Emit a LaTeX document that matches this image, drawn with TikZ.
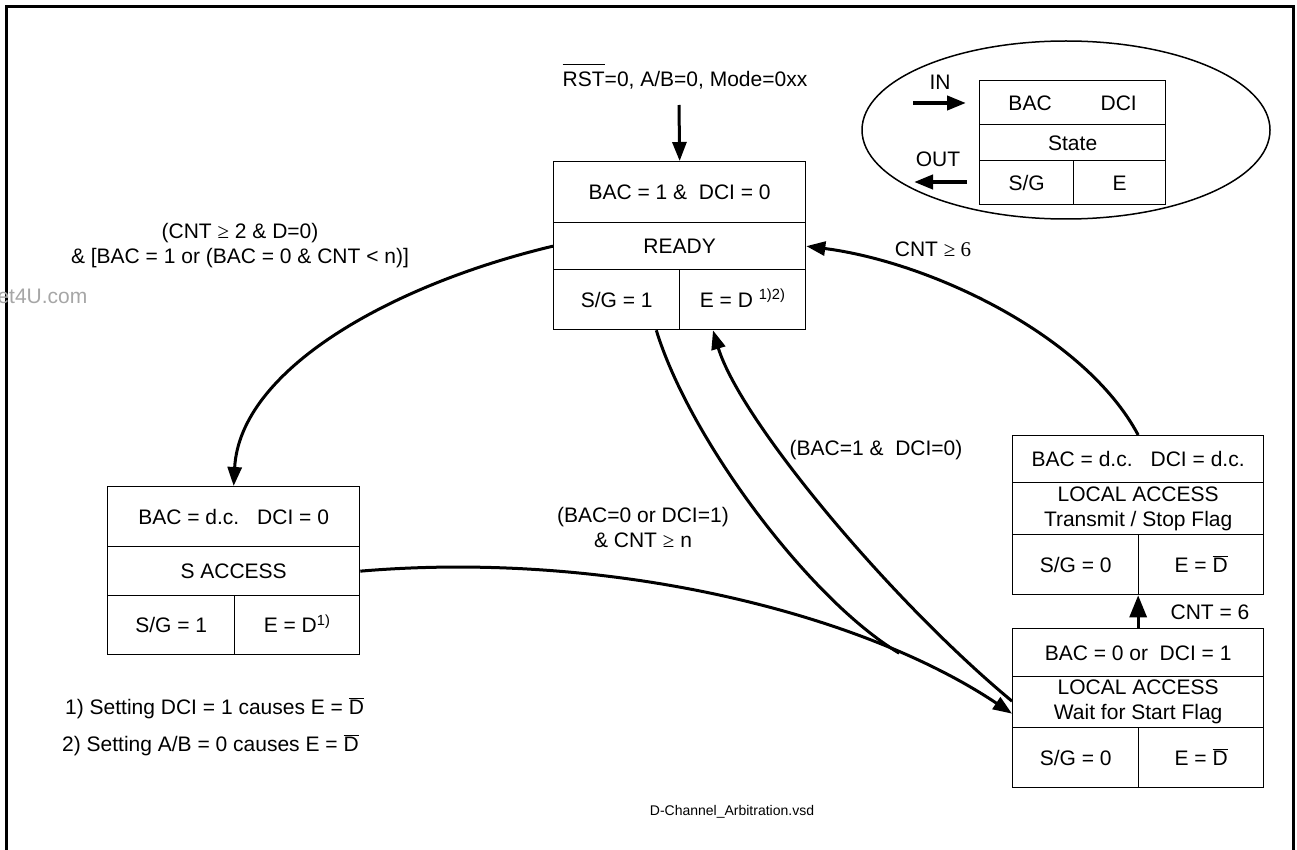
\documentclass[tikz,border=0pt]{standalone}
\usepackage{fontspec}
\setmainfont{Liberation Sans}
\newfontfamily\serifsym{Liberation Serif}
\usetikzlibrary{arrows.meta}
\pgfdeclarelayer{edgelayer}
\pgfdeclarelayer{nodelayer}
\pgfsetlayers{edgelayer,nodelayer,main}
\tikzstyle{cell}=[draw=black, fill=white, line width=1.3pt, inner sep=0pt, anchor=north west, align=center]
\tikzstyle{row}=[style=cell, text height=17pt, text depth=2pt]
\tikzstyle{cond}=[align=center, inner sep=0pt]
\tikzstyle{edge}=[draw=black, line width=3pt, -{Triangle[length=19pt,width=14pt]}]
\tikzstyle{plainedge}=[draw=black, line width=3pt]
\newcommand{\bard}{\ensuremath{\smash{\overline{\mbox{D}}}}}
\newcommand{\ovl}[1]{\ensuremath{\smash{\overline{\mbox{#1}\rule{0pt}{1.0em}}}}}
\newcommand{\fnote}[1]{\smash{\textsuperscript{#1}}}
\newcommand{\geqs}{{\serifsym ≥}}

\begin{document}
\begin{tikzpicture}[x=1pt, y=-1pt, font=\fontsize{21}{25}\selectfont]
	\useasboundingbox (0,0) rectangle (1297,850);
	\draw [line width=3pt] (6.5,860) -- (6.5,7) -- (1293,7) -- (1293,860);
	\node [anchor=west, text=black!35] (wm) at (-6,296) {et4U.com};
	\begin{pgfonlayer}{nodelayer}
		% READY
		\node [style=row, minimum width=252pt, minimum height=61pt] (ready-in) at (553,161) {BAC = 1 \&\ \ DCI = 0};
		\node [style=row, minimum width=252pt, minimum height=47pt] (ready) at (553,222) {READY};
		\node [style=row, minimum width=126pt, minimum height=60pt] (ready-sg) at (553,269) {S/G = 1};
		\node [style=row, minimum width=126pt, minimum height=60pt] (ready-e) at (679,269) {E = D \fnote{1)2)}};
		% S ACCESS
		\node [style=row, minimum width=252pt, minimum height=60pt] (sacc-in) at (107,486) {BAC = d.c.\hspace{18pt}DCI = 0};
		\node [style=row, minimum width=252pt, minimum height=49pt] (sacc) at (107,546) {S ACCESS};
		\node [style=row, minimum width=127pt, minimum height=59pt] (sacc-sg) at (107,595) {S/G = 1};
		\node [style=row, minimum width=125pt, minimum height=59pt] (sacc-e) at (234,595) {E = D\fnote{1)}};
		% LOCAL ACCESS, transmit
		\node [style=row, minimum width=251pt, minimum height=47pt] (ltx-in) at (1012,435) {BAC = d.c.\hspace{18pt}DCI = d.c.};
		\node [style=cell, minimum width=251pt, minimum height=52pt] (ltx) at (1012,482) {LOCAL ACCESS\\Transmit / Stop Flag};
		\node [style=row, minimum width=126pt, minimum height=60pt] (ltx-sg) at (1012,534) {S/G = 0};
		\node [style=row, minimum width=125pt, minimum height=60pt] (ltx-e) at (1138,534) {E = \bard};
		% LOCAL ACCESS, wait
		\node [style=row, minimum width=251pt, minimum height=48pt] (lwait-in) at (1012,628) {BAC = 0 or\ \ DCI = 1};
		\node [style=cell, minimum width=251pt, minimum height=51pt] (lwait) at (1012,676) {LOCAL ACCESS\\Wait for Start Flag};
		\node [style=row, minimum width=126pt, minimum height=60pt] (lwait-sg) at (1012,727) {S/G = 0};
		\node [style=row, minimum width=125pt, minimum height=60pt] (lwait-e) at (1138,727) {E = \bard};
		% legend
		\node [style=row, minimum width=186pt, minimum height=44pt] (key-in) at (979,80) {BAC\hspace{49pt}DCI};
		\node [style=row, minimum width=186pt, minimum height=36pt] (key) at (979,124) {State};
		\node [style=row, minimum width=94pt, minimum height=44pt] (key-sg) at (979,160) {S/G};
		\node [style=row, minimum width=92pt, minimum height=44pt] (key-e) at (1073,160) {E};
		\node [style=cond] (key-inlbl) at (940,82) {IN};
		\node [style=cond] (key-outlbl) at (938,159) {OUT};
		% conditions
		\node [style=cond] (init) at (685,80) {\ovl{RST}=0, A/B=0, Mode=0xx};
		\node [style=cond] (c-sacc) at (240,246) {(CNT \geqs{} 2 \& D=0)\\\& [BAC = 1 or (BAC = 0 \& CNT < n)]};
		\node [style=cond] (c-lwait) at (643,527) {(BAC=0 or DCI=1)\\\& CNT \geqs{} n};
		\node [style=cond] (c-ready) at (876,450) {(BAC=1 \&\ \ DCI=0)};
		\node [style=cond] (c-back) at (933,249) {CNT {\serifsym ≥ 6}};
		\node [style=cond] (c-ltx) at (1210,612) {CNT = 6};
		% notes
		\node [anchor=west, inner sep=0pt] (note1) at (65,709) {1) Setting DCI = 1 causes E = \bard};
		\node [anchor=west, inner sep=0pt] (note2) at (62,746) {2) Setting A/B = 0 causes E = \bard};
		\node [inner sep=0pt, font=\fontsize{14}{16}\selectfont] (file) at (732,812) {D-Channel\_Arbitration.vsd};
	\end{pgfonlayer}
	\begin{pgfonlayer}{edgelayer}
		\draw [line width=1.5pt] (1066,130) ellipse [x radius=204, y radius=89];
		\coordinate (in-a) at (913,103);
		\coordinate (in-b) at (966,103);
		\coordinate (out-a) at (967,182);
		\coordinate (out-b) at (914,182);
		\draw [style=edge, line width=4pt] (in-a) to (in-b);
		\draw [style=edge, line width=4pt] (out-a) to (out-b);
		\coordinate (start) at (679,105);
		\draw [style=edge] (start) to (ready-in.north);
		\draw [style=edge] (ready.west) .. controls (390,285) and (240,370) .. (sacc-in.north);
		\draw [style=edge] (sacc.east) .. controls (609,550) and (862,613) .. ([yshift=-11.5pt]lwait.west) coordinate [pos=0.78] (merge);
		\draw [style=plainedge] ([xshift=-24pt]ready-sg.south east) .. controls (690,440) and (810,600) .. (merge);
		\draw [style=edge] ([yshift=1pt]lwait.west) .. controls (890,600) and (740,420) .. ([xshift=34pt]ready-e.south west);
		\draw [style=edge, -{Triangle[length=22pt,width=17pt]}] (lwait-in.north) to (lwait-in.north |- ltx-sg.south);
		\draw [style=edge] (ltx-in.north) .. controls (1085,335) and (930,262) .. (ready.east);
	\end{pgfonlayer}
\end{tikzpicture}
\end{document}
